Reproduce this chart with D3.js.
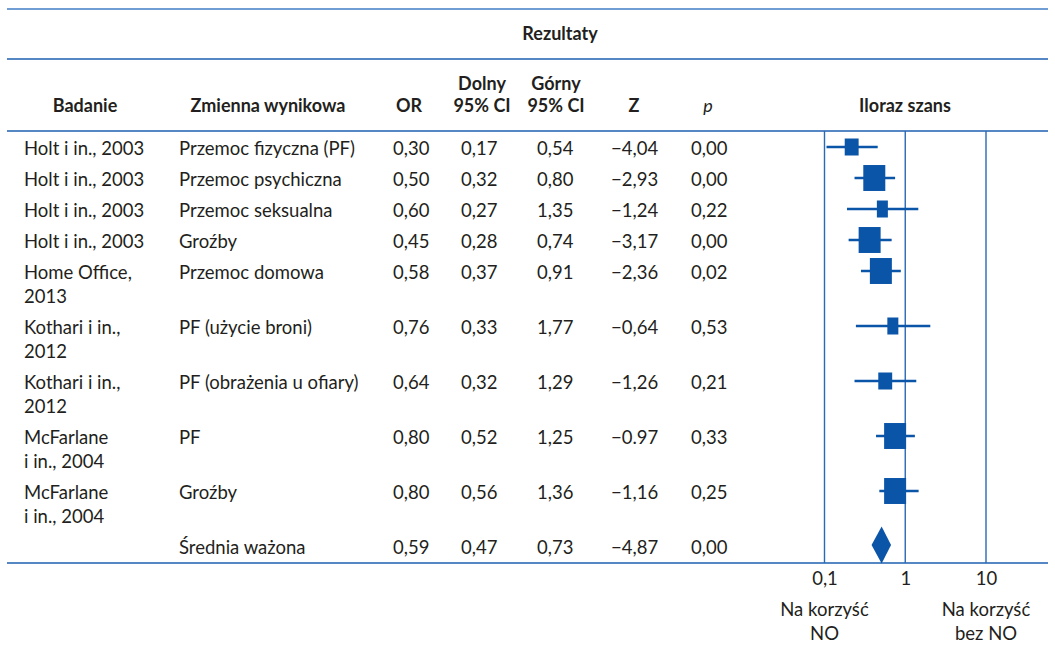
<!DOCTYPE html>
<html lang="pl">
<head>
<meta charset="utf-8">
<script src="https://cdn.jsdelivr.net/npm/d3@7/dist/d3.min.js"></script>
<style>
  html, body { margin: 0; padding: 0; background: #fff; }
  svg { display: block; font-family: Lato, "Noto Sans", sans-serif; }
  .cell { font-size: 18.5px; fill: #231f20; }
  .head { font-size: 18px; font-weight: 700; fill: #231f20; }
</style>
</head>
<body>
<svg id="chart" width="1055" height="645"></svg>
<script>
// Meta-analysis table: one entry per study/outcome, last entry is the weighted mean
const studies = [
  "Holt i in., 2003", "Holt i in., 2003", "Holt i in., 2003", "Holt i in., 2003",
  "Home Office,\n2013", "Kothari i in.,\n2012", "Kothari i in.,\n2012",
  "McFarlane\ni in., 2004", "McFarlane\ni in., 2004", ""
];
const outcomes = [
  "Przemoc fizyczna (PF)", "Przemoc psychiczna", "Przemoc seksualna", "Groźby",
  "Przemoc domowa", "PF (użycie broni)", "PF (obrażenia u ofiary)", "PF", "Groźby",
  "Średnia ważona"
];
const oddsRatio = [0.30, 0.50, 0.60, 0.45, 0.58, 0.76, 0.64, 0.80, 0.80, 0.59];
const ciLower   = [0.17, 0.32, 0.27, 0.28, 0.37, 0.33, 0.32, 0.52, 0.56, 0.47];
const ciUpper   = [0.54, 0.80, 1.35, 0.74, 0.91, 1.77, 1.29, 1.25, 1.36, 0.73];
const zLabels   = ["−4,04", "−2,93", "−1,24", "−3,17", "−2,36", "−0,64", "−1,26", "−0.97", "−1,16", "−4,87"];
const pValues   = [0.00, 0.00, 0.22, 0.00, 0.02, 0.53, 0.21, 0.33, 0.25, 0.00];
// relative study weights (marker size); the pooled row is drawn as a diamond
const studyWeights = [4, 10, 2.5, 10, 10, 2.5, 4, 10, 10];
const axisTicks = [0.1, 1, 10];
const sideLabels = [
  { at: 0.1, text: ["Na korzyść", "NO"] },
  { at: 10,  text: ["Na korzyść", "bez NO"] }
];

const pl = d3.formatLocale({ decimal: ",", thousands: " ", grouping: [3], currency: ["", " zł"], minus: "−" });
const fmt2 = pl.format(".2f");
const fmtTick = pl.format("~g");

const svg = d3.select("#chart");
const blue = "#1d5fb0";
const markBlue = "#0b55a8";

// row layout: wrapped study names take two lines
const lineCount = studies.map(s => s ? s.split("\n").length : 1);
const rowY = [];
lineCount.reduce((y, n, i) => { rowY.push(y); return y + (n > 1 ? 55 : 31); }, 149);

const rules = { top: 9, header: 59, body: 131, bottom: 563, left: 7, right: 1048 };

// horizontal rules of the table
svg.selectAll("line.rule")
  .data([rules.top, rules.header, rules.body, rules.bottom])
  .join("line")
  .attr("class", "rule")
  .attr("x1", rules.left).attr("x2", rules.right)
  .attr("y1", d => d).attr("y2", d => d)
  .attr("stroke", (d, i) => i === 0 ? "#3f7dc6" : blue)
  .attr("stroke-width", 1.6);

// header
svg.append("text").attr("class", "head")
  .attr("x", 560).attr("y", 34).attr("dy", "0.35em")
  .attr("text-anchor", "middle").text("Rezultaty");

const headers = [
  { x: 85,  lines: ["Badanie"] },
  { x: 268, lines: ["Zmienna wynikowa"] },
  { x: 409, lines: ["OR"] },
  { x: 482, lines: ["Dolny", "95% CI"] },
  { x: 556, lines: ["Górny", "95% CI"] },
  { x: 634, lines: ["Z"] },
  { x: 708, lines: ["p"], italic: true },
  { x: 905, lines: ["Iloraz szans"] }
];
headers.forEach(h => {
  h.lines.forEach((t, j) => {
    svg.append("text").attr("class", "head")
      .attr("x", h.x)
      .attr("y", 106 - (h.lines.length - 1 - j) * 22)
      .attr("dy", "0.35em")
      .attr("text-anchor", "middle")
      .style("font-weight", h.italic ? 400 : 700)
      .style("font-style", h.italic ? "italic" : "normal")
      .text(t);
  });
});

// table body
const columns = [
  { x: 24,  get: i => studies[i] },
  { x: 179, get: i => outcomes[i] },
  { x: 393, get: i => fmt2(oddsRatio[i]) },
  { x: 461, get: i => fmt2(ciLower[i]) },
  { x: 537, get: i => fmt2(ciUpper[i]) },
  { x: 611, get: i => zLabels[i] },
  { x: 691, get: i => fmt2(pValues[i]) }
];
const body = svg.append("g");
oddsRatio.forEach((_, i) => {
  columns.forEach(c => {
    const txt = c.get(i);
    if (!txt) return;
    txt.split("\n").forEach((line, j) => {
      body.append("text").attr("class", "cell")
        .attr("x", c.x).attr("y", rowY[i] + j * 24).attr("dy", "0.35em")
        .text(line);
    });
  });
});

// forest plot: reference lines follow the printed 0,1 / 1 / 10 axis
const refScale = d3.scaleLog().domain([0.1, 10]).range([824.5, 986]);
// point estimates and intervals
const orScale = d3.scaleLog().domain([0.1, 10]).range([803, 1007]);
const sizeScale = d3.scaleSqrt().domain([0, 10]).range([0, 22]);

svg.selectAll("line.ref")
  .data(axisTicks)
  .join("line")
  .attr("class", "ref")
  .attr("x1", d => refScale(d)).attr("x2", d => refScale(d))
  .attr("y1", rules.body).attr("y2", rules.bottom)
  .attr("stroke", "#2a69b6").attr("stroke-width", 1.4);

const studyIdx = studyWeights.map((_, i) => i);
const plot = svg.append("g");
plot.selectAll("line.ci")
  .data(studyIdx)
  .join("line")
  .attr("class", "ci")
  .attr("x1", i => orScale(ciLower[i])).attr("x2", i => orScale(ciUpper[i]))
  .attr("y1", i => rowY[i] - 2).attr("y2", i => rowY[i] - 2)
  .attr("stroke", markBlue).attr("stroke-width", 2.4);

plot.selectAll("rect.est")
  .data(studyIdx)
  .join("rect")
  .attr("class", "est")
  .each(function (i) {
    const w = sizeScale(studyWeights[i]);
    const h = Math.max(17, w * 1.18);
    d3.select(this)
      .attr("x", orScale(oddsRatio[i]) - w / 2)
      .attr("y", rowY[i] - 2 - h / 2)
      .attr("width", w).attr("height", h);
  })
  .attr("fill", markBlue);

// pooled estimate
const pooled = oddsRatio.length - 1;
const cy = rowY[pooled] - 3;
plot.append("path")
  .attr("d", d3.line()([
    [orScale(ciLower[pooled]), cy],
    [orScale(oddsRatio[pooled]), cy - 18.5],
    [orScale(ciUpper[pooled]), cy],
    [orScale(oddsRatio[pooled]), cy + 18.5]
  ]) + "Z")
  .attr("fill", markBlue);

// axis labels under the plot
const axis = d3.axisBottom(refScale)
  .tickValues(axisTicks)
  .tickFormat(fmtTick)
  .tickSize(0)
  .tickPadding(0);
const axisG = svg.append("g").attr("transform", `translate(0,${579})`).call(axis);
axisG.select(".domain").remove();
axisG.selectAll("text")
  .attr("dy", "0.35em").attr("y", 0)
  .attr("class", "cell")
  .style("font-family", "Lato, 'Noto Sans', sans-serif")
  .style("font-size", "18.5px")
  .attr("fill", "#231f20");

sideLabels.forEach(s => {
  s.text.forEach((t, j) => {
    svg.append("text").attr("class", "cell")
      .attr("x", refScale(s.at)).attr("y", 610 + j * 24).attr("dy", "0.35em")
      .attr("text-anchor", "middle").text(t);
  });
});
</script>
</body>
</html>
